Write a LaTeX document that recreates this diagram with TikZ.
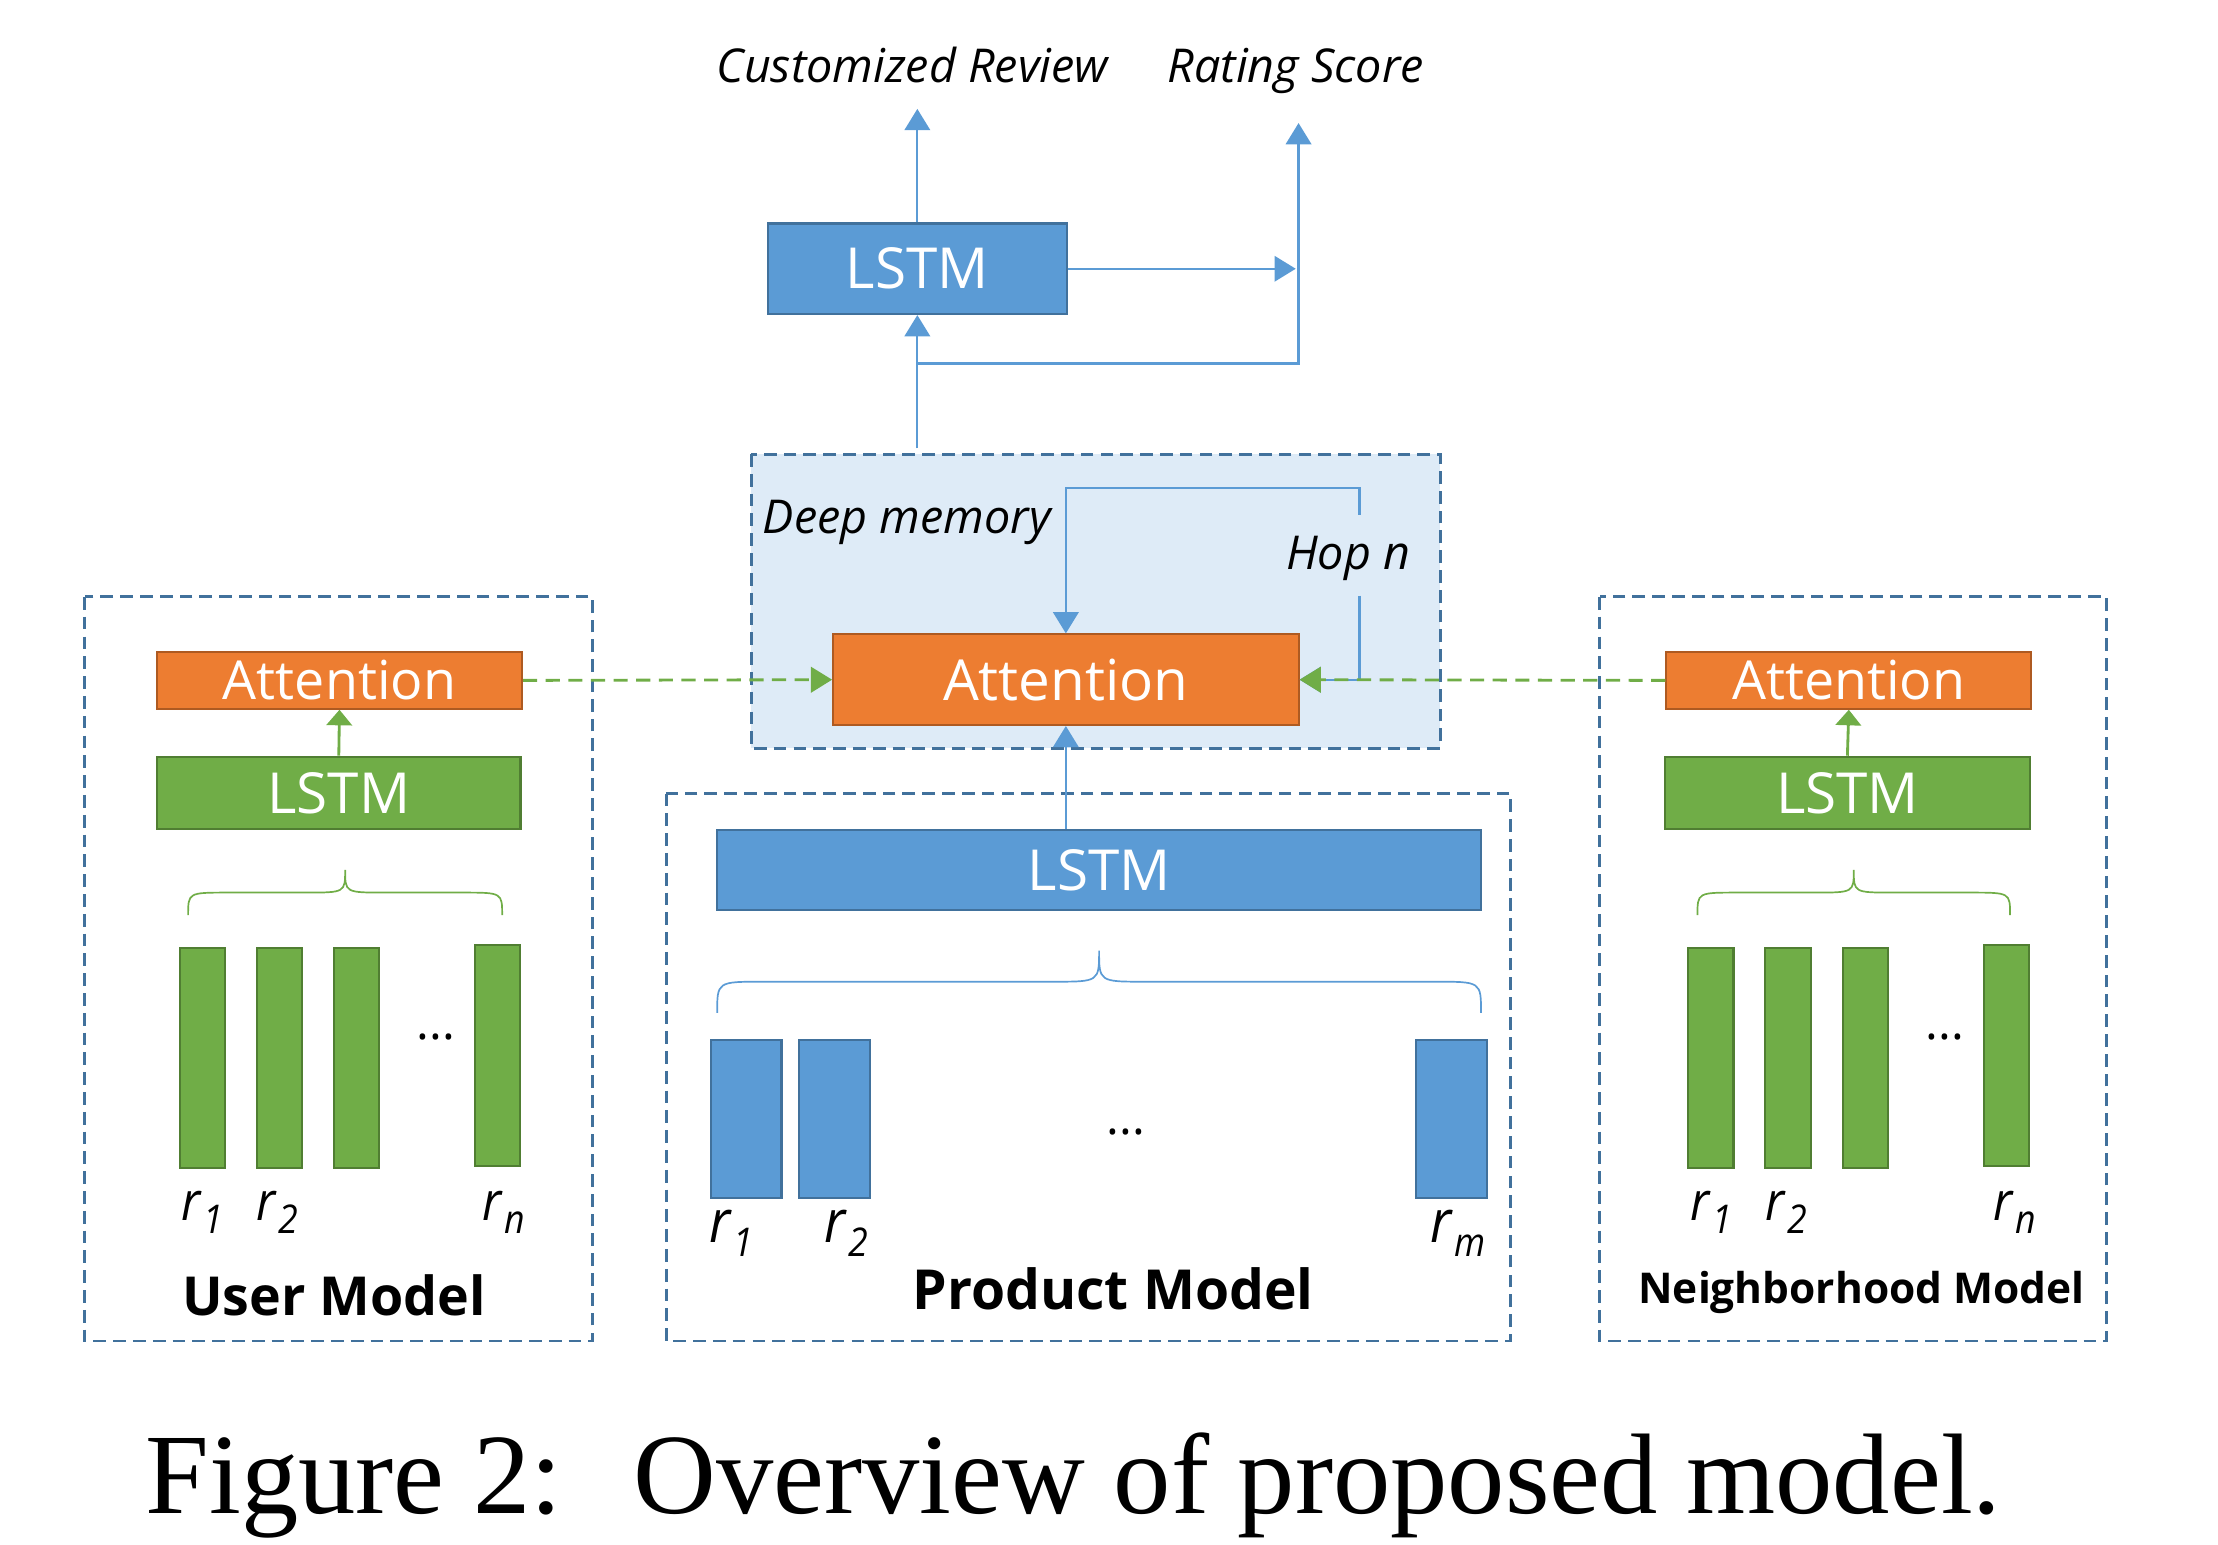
\documentclass[tikz,border=0pt]{standalone}
\usepackage{fontspec}
\setmainfont{Open Sans}
\newfontfamily\capfont{Liberation Serif}
\newfontfamily\condfont[FakeStretch=0.9]{Open Sans}
\usetikzlibrary{arrows.meta}
\definecolor{cBlue}{HTML}{5B9BD5}
\definecolor{cBlueD}{HTML}{41719C}
\definecolor{cOr}{HTML}{ED7D31}
\definecolor{cOrD}{HTML}{AE5A21}
\definecolor{cGr}{HTML}{70AD47}
\definecolor{cGrD}{HTML}{507E32}
\definecolor{cLight}{HTML}{DEEBF7}
\newcommand\fsz[1]{\fontsize{#1}{#1}\selectfont}
\newcommand\rlab[2]{\textit{r}\kern1pt\raisebox{-#2pt}{\fsz{28}\textit{#1}}}
\newcommand\crbrace[7]{% x1 x2 ytip ymid ycusp radius style
  \draw[#7] (#1,#3) .. controls (#1,#4) .. (#1+#6,#4) -- ({(#1+#2)/2-#6},#4)
    .. controls ({(#1+#2)/2},#4) .. ({(#1+#2)/2},#5)
    .. controls ({(#1+#2)/2},#4) .. ({(#1+#2)/2+#6},#4) -- (#2-#6,#4)
    .. controls (#2,#4) .. (#2,#3);}
\begin{document}
\begin{tikzpicture}[x=1pt,y=-1pt,
  blk/.style={draw, line width=1.5pt, inner sep=0pt, text=white},
  bluebox/.style={blk, fill=cBlue, draw=cBlueD},
  orbox/.style={blk, fill=cOr, draw=cOrD},
  grbox/.style={blk, fill=cGr, draw=cGrD},
  dbox/.style={draw=cBlueD, dash pattern=on 9pt off 5pt, line width=2.1pt},
  conn/.style={draw=cBlue, line width=1.6pt},
  arr/.style={conn, -{Triangle[width=18pt,length=15pt]}},
  garr/.style={draw=cGr, line width=2pt, dash pattern=on 10pt off 6pt, -{Triangle[width=18pt,length=15pt]}},
  gsarr/.style={draw=cGr, line width=2pt, -{Triangle[width=18pt,length=11pt]}},
  itlab/.style={font=\itshape\fsz{33}, inner sep=0pt},
  gbar/.style={fill=cGr, draw=cGrD, line width=1.5pt, minimum width=32pt, minimum height=156pt, inner sep=0pt},
  bbar/.style={fill=cBlue, draw=cBlueD, line width=1.5pt, minimum width=50pt, minimum height=112pt, inner sep=0pt},
  rl/.style={font=\condfont\fsz{38}, inner sep=0pt},
  dots/.style={font=\fsz{34}, inner sep=0pt},
  brc/.style={line width=1.2pt}
]
\useasboundingbox (0,0) rectangle (1568,1092);

% dashed containers
\fill[cLight] (531,321) rectangle (1018,529);
\draw[dbox] (531,321) rectangle (1018,529);
\draw[dbox] (60,422) rectangle (419,948);
\draw[dbox] (471,561) rectangle (1068,948);
\draw[dbox] (1131,422) rectangle (1489,948);

% top part
\node[bluebox, minimum width=211pt, minimum height=64pt, font=\fsz{40}] (tlstm) at (648.5,190) {LSTM};
\node[itlab, anchor=base] (crev) at (645,58) {Customized Review};
\node[itlab, anchor=base] (rscore) at (916,58) {Rating Score};
\coordinate (crtip) at (648.5,77);
\coordinate (rstip) at (918,87);
\coordinate (midtip) at (916,190);
\coordinate (dmout) at (648.5,317);
\coordinate (split) at (648.5,257);
\draw[arr] (tlstm.north) -- (crtip);
\draw[arr] (tlstm.east) -- (midtip);
\draw[arr] (dmout) -- (tlstm.south);
\draw[arr] (split) -| (rstip);

% deep memory
\node[itlab] (dmem) at (641,369) {Deep memory};
\node[orbox, minimum width=329pt, minimum height=64pt, font=\fsz{40}] (catt) at (753.5,480.5) {Attention};
\node[itlab] (hop) at (953,395) {Hop n};
\coordinate (hopA) at (961,364);
\coordinate (hopB) at (961,421);
\coordinate (hopTL) at (753.5,345);
\draw[arr] (hopA) |- (hopTL) -- (catt.north);
\draw[arr] (hopB) |- (catt.east);

% user model
\node[orbox, minimum width=258pt, minimum height=40pt, font=\fsz{38}] (uatt) at (240,481) {Attention};
\node[grbox, minimum width=257pt, minimum height=51pt, font=\fsz{40}] (ulstm) at (239.5,560.5) {LSTM};
\draw[gsarr] (ulstm.north) -- (uatt.south);
\crbrace{133}{355}{647}{631}{615}{28}{brc, cGr}
\node[gbar] (u1) at (143,748) {};
\node[gbar] (u2) at (197.5,748) {};
\node[gbar] (u3) at (252,748) {};
\node[gbar] (un) at (351.5,746) {};
\node[dots] (udots) at (308,733) {...};
\node[rl] (ur1) at (143,857) {\rlab{1}{9}};
\node[rl] (ur2) at (196,857) {\rlab{2}{9}};
\node[rl] (urn) at (356,857) {\rlab{n}{9}};
\node[font=\bfseries\fsz{38}, inner sep=0pt] (umod) at (236,916) {User Model};

% neighborhood model
\node[orbox, minimum width=258pt, minimum height=40pt, font=\fsz{38}] (natt) at (1307,481) {Attention};
\node[grbox, minimum width=258pt, minimum height=51pt, font=\fsz{40}] (nlstm) at (1306,560.5) {LSTM};
\draw[gsarr] (nlstm.north) -- (natt.south);
\crbrace{1200}{1421}{647}{631}{615}{28}{brc, cGr}
\node[gbar] (n1) at (1209.5,748) {};
\node[gbar] (n2) at (1264,748) {};
\node[gbar] (n3) at (1319,748) {};
\node[gbar] (nn) at (1418.5,746) {};
\node[dots] (ndots) at (1375,733) {...};
\node[rl] (nr1) at (1210,857) {\rlab{1}{9}};
\node[rl] (nr2) at (1263,857) {\rlab{2}{9}};
\node[rl] (nrn) at (1424,857) {\rlab{n}{9}};
\node[font=\bfseries\fsz{30}, inner sep=0pt] (nmod) at (1316,914) {Neighborhood Model};

% product model
\node[bluebox, minimum width=540pt, minimum height=56pt, font=\fsz{40}] (plstm) at (777,615) {LSTM};
\draw[arr] (catt.south |- plstm.north) -- (catt.south);
\crbrace{507}{1047}{716}{694}{672}{32}{brc, cBlue}
\node[bbar] (p1) at (527.5,791) {};
\node[bbar] (p2) at (590,791) {};
\node[bbar] (pm) at (1026,791) {};
\node[dots] (pdots) at (796,800) {...};
\node[rl, font=\condfont\fsz{42}] (pr1) at (517,872) {\rlab{1}{10}};
\node[rl, font=\condfont\fsz{42}] (pr2) at (598,872) {\rlab{2}{10}};
\node[rl, font=\condfont\fsz{42}] (prm) at (1031,872) {\rlab{m}{10}};
\node[font=\bfseries\fsz{39}, inner sep=0pt] (pmod) at (787,911) {Product Model};

% green dashed links
\draw[garr] (uatt.east) -- (catt.west);
\draw[garr] (natt.west) -- (catt.east);

% caption
\node[font=\capfont\fsz{81}, anchor=base, inner sep=0pt] (cap) at (759,1070) {Figure 2:\hspace{50pt}Overview of proposed model.};
\end{tikzpicture}
\end{document}
